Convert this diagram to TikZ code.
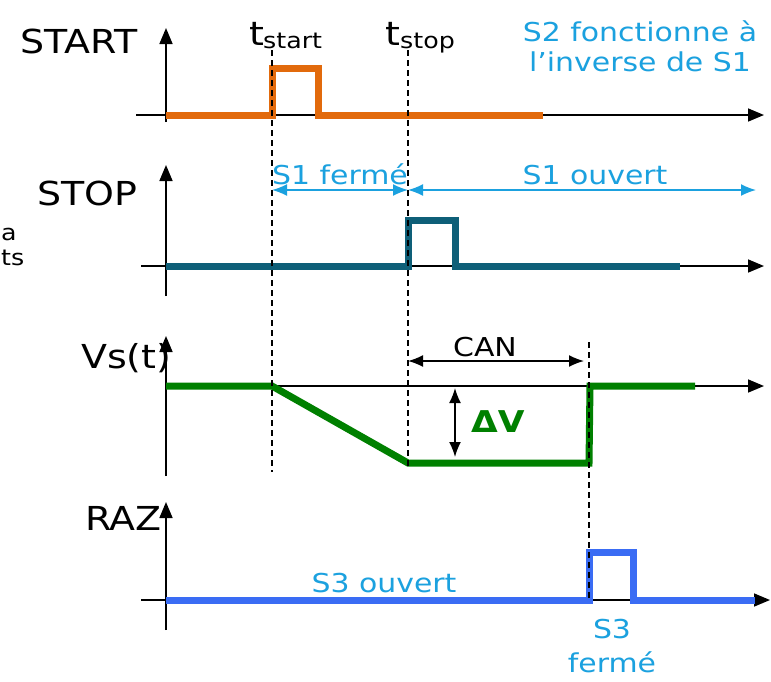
\documentclass[tikz,border=0pt]{standalone}
\usepackage{fontspec}
\setmainfont{DejaVu Sans}[FakeStretch=1.15]
\usetikzlibrary{arrows.meta}
\definecolor{corange}{HTML}{E26A0C}
\definecolor{cteal}{HTML}{0E5F78}
\definecolor{cgreen}{HTML}{008000}
\definecolor{cblue}{HTML}{3A6CF4}
\definecolor{clight}{HTML}{1BA1DF}
\tikzset{
  axis/.style={black, line width=1.6pt, -{Triangle[length=16pt,width=13pt]}},
  sig/.style={line width=7pt, line join=miter},
  guide/.style={black, line width=1.3pt, dash pattern=on 6pt off 4pt},
  span/.style={clight, line width=1.6pt, {Latex[length=15pt,width=12pt]}-{Latex[length=15pt,width=12pt]}},
  spanblack/.style={black, line width=1.6pt, {Latex[length=15pt,width=12pt]}-{Latex[length=15pt,width=12pt]}},
  big/.style={font=\fontsize{33}{36}\selectfont, inner sep=0pt},
  mid/.style={font=\fontsize{26}{30}\selectfont, inner sep=0pt},
  small/.style={font=\fontsize{22}{30}\selectfont, inner sep=0pt},
}
\begin{document}
\begin{tikzpicture}[x=1pt,y=-1pt]
\useasboundingbox (0,0) rectangle (771,681);
\clip (0,0) rectangle (771,681);
\fill[white] (0,0) rectangle (771,681);

% guide coordinates
\coordinate (gstartT) at (272,50);
\coordinate (gstartB) at (272,472);
\coordinate (gstopT) at (408,50);
\coordinate (gstopB) at (408,466);
\coordinate (grazT) at (589,342);
\coordinate (grazB) at (589,598);

% ===== START =====
\coordinate (a1b) at (166,122);
\coordinate (a1t) at (166,28);
\coordinate (h1l) at (136,115);
\coordinate (h1r) at (764,115);
\draw[axis] (a1b) -- (a1t);
\draw[axis] (h1l) -- (h1r);
\coordinate (o1) at (166,115);
\coordinate (o2) at (272,115);
\coordinate (o3) at (272,68);
\coordinate (o4) at (318,68);
\coordinate (o5) at (318,115);
\coordinate (o6) at (543,115);
\draw[sig, corange] (o1) -- (o2) -- (o3) -- (o4) -- (o5) -- (o6);
\node[big, anchor=base west] (lstart) at (20,53) {START};
\node[big, anchor=base west] (tstart) at (249,45) {t};
\node[small, anchor=base west] (sstart) at (263,48) {start};
\node[big, anchor=base west] (tstop) at (385,45) {t};
\node[small, anchor=base west] (sstop) at (400,48) {stop};
\node[mid, clight, align=center] (s2note) at (640,46) {S2 fonctionne à\\l’inverse de S1};

% ===== STOP =====
\coordinate (a2b) at (166,296);
\coordinate (a2t) at (166,165);
\coordinate (h2l) at (141,266);
\coordinate (h2r) at (764,266);
\draw[axis] (a2b) -- (a2t);
\draw[axis] (h2l) -- (h2r);
\coordinate (p1) at (166,266);
\coordinate (p2) at (408,266);
\coordinate (p3) at (408,220);
\coordinate (p4) at (455,220);
\coordinate (p5) at (455,266);
\coordinate (p6) at (680,266);
\draw[sig, cteal] (p1) -- (p2) -- (p3) -- (p4) -- (p5) -- (p6);
\node[big, anchor=base west] (lstop) at (37,205) {STOP};
\node[small, anchor=base west] (fraga) at (1,240) {a};
\node[small, anchor=base west] (fragts) at (1,265) {ts};
\coordinate (f1l) at (272,190);
\coordinate (f1r) at (408,190);
\coordinate (o1r) at (756,190);
\draw[span] (f1l) -- (f1r);
\draw[span] (f1r) -- (o1r);
\node[mid, clight, anchor=base] (s1f) at (340,184) {S1 fermé};
\node[mid, clight, anchor=base] (s1o) at (595,184) {S1 ouvert};

% ===== Vs(t) =====
\coordinate (a3b) at (166,476);
\coordinate (a3t) at (166,336);
\coordinate (h3l) at (166,386);
\coordinate (h3r) at (764,386);
\draw[axis] (a3b) -- (a3t);
\draw[axis] (h3l) -- (h3r);
\coordinate (v1) at (166,386);
\coordinate (v2) at (272,386);
\coordinate (v3) at (408,463);
\coordinate (v4) at (589,463);
\coordinate (v5) at (590,386);
\coordinate (v6) at (695,386);
\draw[sig, cgreen] (v1) -- (v2) -- (v3) -- (v4) -- (v5) -- (v6);
\node[big, anchor=base west] (lvs) at (81,368) {Vs(t)};
\coordinate (canl) at (408,361);
\coordinate (canr) at (584,361);
\draw[spanblack] (canl) -- (canr);
\node[mid, anchor=base] (lcan) at (485,356) {CAN};
\coordinate (dvt) at (455,388);
\coordinate (dvb) at (455,457);
\draw[spanblack] (dvt) -- (dvb);
\node[big, cgreen, font=\fontsize{30}{36}\bfseries, anchor=base west] (ldv) at (471,432) {ΔV};

% ===== RAZ =====
\coordinate (a4b) at (166,630);
\coordinate (a4t) at (166,502);
\coordinate (h4l) at (141,600);
\coordinate (h4r) at (770,600);
\draw[axis] (a4b) -- (a4t);
\draw[axis] (h4l) -- (h4r);
\coordinate (r1) at (166,600);
\coordinate (r2) at (589,600);
\coordinate (r3) at (589,552);
\coordinate (r4) at (633,552);
\coordinate (r5) at (633,600);
\coordinate (r6) at (755,600);
\draw[sig, cblue] (r1) -- (r2) -- (r3) -- (r4) -- (r5) -- (r6);
\node[big, anchor=base east] (lraz) at (162,530) {RAZ};
\node[mid, clight, anchor=base] (s3o) at (384,592) {S3 ouvert};
\node[mid, clight, anchor=base] (s3a) at (612,638) {S3};
\node[mid, clight, anchor=base] (s3b) at (612,672) {fermé};

% guides
\draw[guide] (gstartT) -- (gstartB);
\draw[guide] (gstopT) -- (gstopB);
\draw[guide] (grazT) -- (grazB);
\end{tikzpicture}
\end{document}
